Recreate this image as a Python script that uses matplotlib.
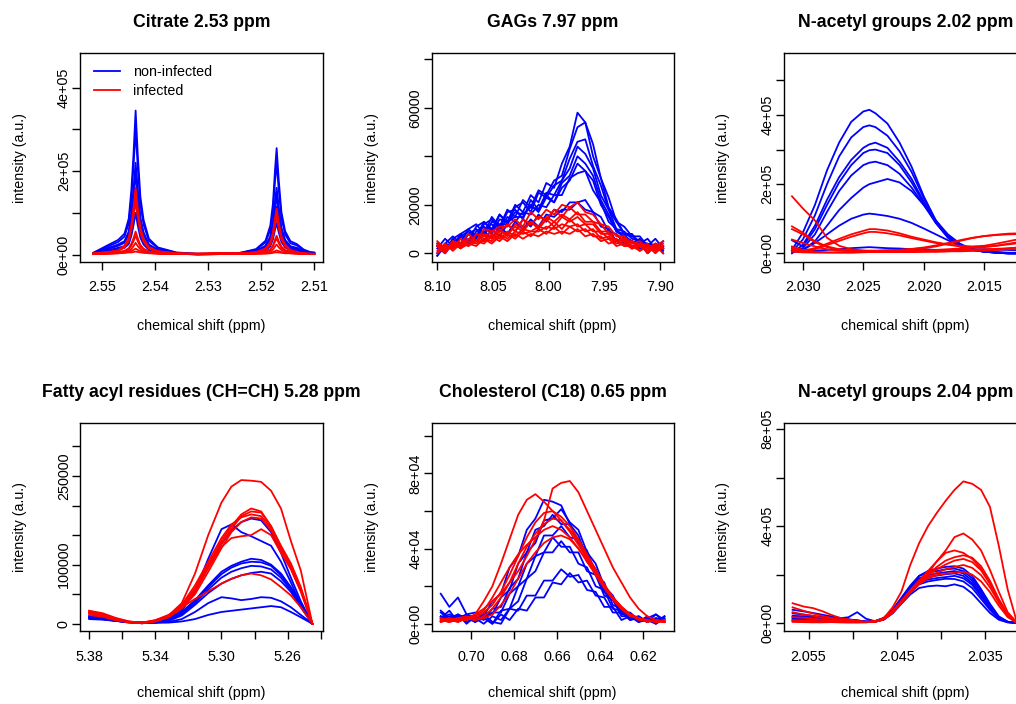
import matplotlib
matplotlib.use("Agg")
import matplotlib.pyplot as plt

BLUE = "#0000ff"
RED = "#ff0000"
LW = 1.3
plt.rcParams["font.family"] = ["Liberation Sans", "DejaVu Sans"]

# ---- Citrate 2.53 ppm (intensity in thousands) ----
citratePpm = [2.5517, 2.5490, 2.5470, 2.5458, 2.5450, 2.5445, 2.5441, 2.5437, 2.5433, 2.5428,
              2.5422, 2.5412, 2.5395, 2.5360, 2.5320, 2.5280, 2.5240, 2.5210, 2.5192, 2.5183,
              2.5178, 2.5174, 2.5171, 2.5167, 2.5162, 2.5155, 2.5145, 2.5133, 2.5120, 2.5108, 2.5100]
citrateBlue = [
    [4, 22, 35, 50, 86, 155, 240, 345, 240, 138, 83, 38, 17, 5, 2, 2, 4, 13, 33, 69, 122, 204, 255, 178, 102, 56, 32, 25, 12, 6, 5],
    [4, 19, 30, 43, 75, 135, 210, 300, 210, 120, 72, 33, 15, 4, 1, 2, 4, 11, 29, 59, 106, 176, 220, 154, 88, 48, 27, 22, 10, 5, 4],
    [3, 15, 24, 32, 55, 99, 154, 220, 154, 88, 53, 24, 11, 3, 1, 2, 3, 8, 21, 43, 77, 128, 160, 112, 64, 35, 20, 16, 8, 4, 3],
    [3, 14, 22, 30, 51, 92, 144, 205, 144, 82, 49, 23, 10, 3, 0, 1, 3, 8, 20, 41, 72, 120, 150, 105, 60, 33, 18, 15, 7, 4, 3],
    [2, 13, 21, 28, 49, 88, 137, 195, 137, 78, 47, 21, 10, 3, 1, 2, 3, 7, 18, 38, 67, 112, 140, 98, 56, 31, 17, 14, 7, 3, 2],
    [2, 10, 16, 20, 33, 59, 91, 130, 91, 52, 31, 14, 7, 2, 0, 1, 2, 6, 15, 31, 55, 92, 115, 81, 46, 25, 14, 11, 6, 3, 2],
    [2, 8, 13, 16, 25, 45, 70, 100, 70, 40, 24, 11, 5, 2, 1, 2, 2, 4, 10, 20, 36, 60, 75, 53, 30, 17, 10, 8, 4, 2, 2],
]
citrateRed = [
    [3, 6, 10, 21, 40, 72, 112, 160, 112, 64, 38, 18, 8, 3, 2, 3, 2, 6, 14, 30, 53, 88, 110, 77, 44, 24, 11, 6, 3, 2, 2],
    [2, 5, 9, 19, 36, 65, 102, 145, 102, 58, 35, 16, 7, 2, 2, 3, 2, 5, 13, 27, 48, 80, 100, 70, 40, 22, 10, 5, 3, 2, 1],
    [2, 5, 8, 17, 33, 59, 91, 130, 91, 52, 31, 14, 7, 3, 1, 2, 3, 5, 12, 24, 43, 72, 90, 63, 36, 20, 9, 5, 2, 1, 1],
    [1, 3, 5, 9, 15, 26, 39, 55, 39, 23, 14, 7, 3, 1, 2, 3, 2, 3, 7, 13, 22, 36, 45, 32, 19, 11, 6, 3, 2, 1, 1],
    [2, 3, 5, 8, 12, 21, 32, 45, 32, 19, 12, 6, 3, 2, 1, 2, 2, 3, 6, 11, 19, 31, 38, 27, 16, 9, 5, 3, 2, 1, 1],
    [1, 2, 4, 6, 8, 13, 20, 28, 20, 13, 8, 5, 3, 1, 1, 2, 2, 2, 4, 7, 12, 19, 24, 17, 11, 7, 4, 3, 2, 1, 1],
    [1, 2, 3, 5, 6, 8, 11, 14, 11, 8, 6, 4, 2, 1, 1, 1, 1, 2, 3, 4, 6, 8, 10, 8, 6, 4, 3, 2, 1, 1, 1],
    [1, 2, 3, 4, 5, 5, 6, 7, 6, 5, 4, 3, 2, 1, 1, 1, 1, 2, 2, 3, 4, 5, 5, 5, 4, 3, 3, 2, 1, 1, 1],
]

# ---- GAGs 7.97 ppm (thousands) ----
gagsPpm = [8.100, 8.093, 8.086, 8.079, 8.072, 8.065, 8.058, 8.051, 8.044, 8.037,
           8.030, 8.023, 8.016, 8.009, 8.002, 7.995, 7.988, 7.981, 7.974, 7.967,
           7.960, 7.953, 7.946, 7.939, 7.932, 7.925, 7.918, 7.911, 7.904, 7.897]
gagsBlue = [
    [2, 6, 3, 8, 10, 7, 13, 10, 16, 13, 20, 17, 24, 21, 29, 27, 37, 44, 58, 54, 45, 31, 23, 13, 11, 7, 7, 3, 6, 2],
    [0, 4, 7, 4, 10, 12, 8, 15, 11, 18, 15, 22, 19, 26, 24, 30, 32, 43, 52, 54, 40, 31, 19, 14, 8, 8, 4, 6, 2, 5],
    [4, 1, 6, 8, 5, 11, 13, 9, 16, 12, 19, 21, 17, 25, 23, 28, 30, 39, 46, 47, 36, 28, 18, 13, 8, 7, 5, 4, 3, 3],
    [-1, 4, 3, 7, 9, 6, 12, 14, 10, 17, 18, 14, 22, 18, 25, 24, 30, 35, 44, 41, 35, 24, 18, 10, 9, 6, 5, 3, 3, 2],
    [3, 0, 6, 3, 8, 10, 7, 13, 12, 12, 17, 16, 19, 18, 24, 21, 29, 32, 40, 37, 32, 22, 16, 9, 8, 4, 6, 2, 4, 0],
    [0, 4, 2, 7, 4, 9, 11, 8, 14, 13, 15, 15, 20, 17, 23, 21, 27, 30, 37, 34, 30, 20, 15, 9, 7, 5, 4, 3, 2, 2],
    [4, 1, 5, 4, 8, 5, 10, 12, 9, 15, 13, 17, 16, 20, 19, 24, 24, 31, 33, 34, 26, 21, 13, 10, 6, 5, 3, 3, 2, 3],
    [-1, 3, 3, 4, 5, 8, 5, 10, 7, 12, 9, 14, 11, 16, 13, 18, 17, 21, 21, 22, 17, 15, 9, 8, 4, 5, 2, 3, 1, 2],
    [3, 0, 4, 4, 5, 5, 9, 6, 11, 8, 13, 10, 14, 11, 16, 15, 18, 18, 21, 18, 17, 11, 10, 5, 6, 2, 4, 0, 3, 1],
]
gagsRed = [
    [4, 1, 5, 4, 8, 5, 10, 9, 11, 11, 14, 11, 17, 14, 18, 16, 20, 19, 21, 17, 16, 12, 11, 7, 7, 4, 5, 2, 4, 3],
    [0, 3, 2, 6, 3, 8, 7, 9, 9, 12, 9, 14, 12, 15, 14, 18, 15, 19, 16, 16, 13, 12, 8, 8, 5, 5, 3, 4, 1, 4],
    [3, 1, 5, 2, 6, 5, 7, 7, 10, 7, 12, 10, 13, 11, 15, 13, 16, 14, 17, 13, 13, 9, 9, 5, 6, 3, 4, 1, 4, 2],
    [5, 2, 4, 4, 6, 5, 8, 6, 9, 8, 11, 9, 13, 10, 14, 11, 15, 13, 15, 12, 12, 8, 8, 5, 6, 2, 4, 2, 3, 5],
    [0, 3, 2, 4, 4, 5, 5, 8, 6, 9, 7, 10, 9, 11, 10, 13, 10, 14, 11, 12, 9, 9, 6, 6, 3, 5, 1, 3, 2, 3],
    [4, 1, 3, 3, 5, 4, 6, 5, 8, 6, 9, 8, 9, 9, 11, 10, 12, 11, 12, 9, 10, 6, 7, 4, 5, 2, 4, 0, 3, 2],
    [1, 4, 1, 4, 3, 5, 4, 7, 5, 8, 6, 9, 7, 10, 8, 11, 8, 11, 9, 10, 7, 7, 4, 5, 3, 3, 1, 3, 0, 3],
    [3, 0, 4, 2, 4, 3, 6, 4, 7, 5, 8, 6, 8, 7, 9, 8, 9, 8, 10, 7, 8, 5, 6, 3, 4, 2, 3, 1, 3, 0],
]

# ---- N-acetyl groups 2.02 ppm (thousands) ----
nac202Ppm = [2.0309, 2.0300, 2.0290, 2.0280, 2.0270, 2.0260, 2.0250, 2.0245, 2.0240, 2.0230, 2.0220,
             2.0210, 2.0200, 2.0190, 2.0180, 2.0170, 2.0160, 2.0150, 2.0140, 2.0130, 2.0120, 2.0110]
nac202Blue = [
    [10, 60, 140, 240, 320, 380, 410, 415, 405, 375, 320, 250, 165, 95, 50, 20, 10, 5, 2, 0, 0, 0],
    [5, 40, 110, 200, 280, 335, 365, 370, 365, 340, 295, 235, 160, 95, 50, 22, 10, 5, 2, 0, 0, 0],
    [0, 25, 80, 155, 220, 270, 305, 315, 320, 305, 265, 215, 150, 90, 48, 22, 12, 6, 3, 1, 0, 0],
    [38, 20, 70, 140, 205, 255, 290, 298, 300, 290, 255, 205, 145, 88, 45, 20, 10, 5, 2, 0, 0, 0],
    [10, 15, 55, 120, 180, 225, 255, 262, 265, 255, 230, 190, 140, 88, 48, 22, 10, 5, 2, 0, 0, 0],
    [5, 10, 35, 80, 125, 160, 190, 200, 205, 215, 205, 180, 140, 95, 55, 28, 12, 6, 3, 1, 0, 0],
    [15, 10, 30, 55, 80, 100, 112, 115, 113, 108, 100, 88, 72, 55, 38, 22, 12, 6, 3, 2, 1, 0],
    [5, 5, 8, 10, 12, 15, 17, 18, 17, 15, 14, 12, 12, 10, 10, 11, 12, 12, 11, 10, 8, 6],
]
nac202Red = [
    [165, 130, 95, 45, 22, 12, 8, 6, 5, 5, 4, 4, 5, 5, 6, 8, 10, 12, 13, 15, 17, 20],
    [78, 60, 35, 20, 12, 9, 8, 8, 8, 9, 10, 12, 15, 20, 28, 36, 44, 50, 54, 57, 58, 60],
    [70, 55, 32, 18, 10, 7, 6, 6, 7, 8, 10, 13, 17, 23, 30, 38, 45, 50, 53, 55, 56, 57],
    [15, 8, 15, 28, 42, 55, 65, 70, 70, 66, 58, 48, 40, 32, 26, 22, 20, 22, 28, 35, 42, 48],
    [10, 5, 12, 24, 36, 48, 58, 62, 62, 58, 52, 44, 37, 30, 25, 20, 18, 19, 22, 28, 33, 38],
    [20, 10, 5, 3, 2, 2, 3, 4, 5, 6, 7, 8, 9, 10, 12, 14, 16, 18, 22, 26, 30, 33],
    [5, 3, 2, 2, 3, 3, 4, 4, 5, 5, 5, 6, 6, 7, 8, 9, 10, 10, 11, 12, 12, 12],
    [40, 30, 20, 12, 8, 6, 5, 5, 4, 4, 4, 4, 5, 5, 6, 6, 7, 8, 10, 14, 18, 22],
]

# ---- Fatty acyl residues (CH=CH) 5.28 ppm (thousands) ----
fattyPpm = [5.380, 5.372, 5.364, 5.356, 5.348, 5.340, 5.332, 5.324, 5.316, 5.308,
            5.300, 5.294, 5.288, 5.282, 5.276, 5.270, 5.264, 5.258, 5.252, 5.245]
fattyBlue = [
    [12, 10, 7, 3, 2, 3, 8, 22, 55, 110, 160, 168, 155, 148, 140, 132, 105, 70, 32, 0],
    [10, 8, 5, 3, 1, 3, 10, 25, 55, 95, 135, 158, 172, 178, 175, 155, 120, 78, 38, 0],
    [12, 10, 6, 3, 2, 3, 8, 20, 40, 65, 88, 98, 105, 110, 108, 100, 85, 62, 34, 0],
    [10, 9, 5, 2, 1, 3, 7, 18, 38, 62, 84, 95, 102, 105, 104, 98, 82, 60, 32, 0],
    [14, 11, 6, 3, 2, 2, 6, 16, 35, 58, 78, 88, 94, 98, 97, 92, 78, 57, 30, 0],
    [11, 9, 5, 3, 1, 2, 5, 14, 32, 52, 68, 76, 82, 86, 88, 85, 72, 54, 28, 0],
    [10, 8, 5, 3, 2, 2, 3, 8, 20, 35, 45, 43, 40, 42, 45, 44, 38, 28, 15, 0],
    [8, 7, 5, 3, 2, 2, 2, 4, 8, 15, 20, 22, 24, 26, 28, 30, 28, 20, 11, 0],
]
fattyRed = [
    [20, 16, 8, 3, 1, 5, 14, 35, 85, 150, 205, 232, 243, 242, 240, 225, 195, 140, 90, 0],
    [22, 15, 8, 3, 2, 6, 15, 30, 60, 100, 140, 165, 185, 195, 190, 165, 130, 100, 60, 0],
    [18, 14, 7, 2, 1, 4, 12, 28, 55, 95, 135, 160, 182, 190, 188, 165, 132, 102, 62, 0],
    [15, 12, 6, 3, 2, 5, 13, 32, 65, 105, 145, 168, 180, 185, 182, 162, 128, 98, 58, 0],
    [20, 16, 9, 4, 1, 4, 11, 26, 50, 88, 128, 155, 172, 180, 178, 158, 125, 95, 56, 0],
    [18, 14, 8, 3, 1, 5, 14, 30, 58, 95, 130, 145, 148, 150, 160, 150, 120, 92, 54, 0],
    [22, 18, 10, 4, 2, 6, 14, 28, 42, 55, 68, 76, 82, 85, 82, 75, 62, 48, 28, 0],
]

# ---- Cholesterol (C18) 0.65 ppm (thousands) ----
cholPpm = [0.714, 0.710, 0.706, 0.702, 0.698, 0.694, 0.690, 0.686, 0.682, 0.678, 0.674, 0.670, 0.666, 0.662,
           0.658, 0.654, 0.650, 0.646, 0.642, 0.638, 0.634, 0.630, 0.626, 0.622, 0.618, 0.614, 0.610]
cholBlue = [
    [16, 9, 14, 5, 6, 4, 12, 16, 30, 36, 50, 56, 66, 65, 63, 53, 47, 35, 29, 17, 13, 5, 5, 2, 3, 5, 1],
    [7, 3, 5, 3, 4, 2, 8, 9, 19, 24, 38, 43, 55, 56, 61, 54, 50, 38, 32, 20, 15, 6, 6, 2, 3, 1, 4],
    [3, 7, 1, 5, 3, 5, 5, 14, 18, 32, 38, 50, 52, 58, 53, 53, 43, 39, 26, 22, 10, 8, 3, 4, 1, 5, 2],
    [4, 1, 5, 0, 4, 3, 6, 6, 16, 20, 32, 36, 47, 47, 52, 46, 45, 33, 29, 17, 13, 6, 5, 1, 3, 1, 3],
    [6, 2, 4, 3, 1, 5, 0, 7, 8, 20, 24, 36, 38, 46, 41, 41, 32, 30, 20, 18, 8, 7, 2, 4, 1, 3, 2],
    [3, 5, 3, 5, 1, 5, 1, 0, 8, 12, 24, 28, 38, 38, 44, 38, 38, 28, 26, 15, 13, 4, 4, 1, 4, 0, 3],
    [4, 2, 4, 1, 3, 0, 4, 2, 8, 7, 15, 15, 23, 23, 29, 25, 26, 18, 17, 9, 9, 2, 4, 1, 2, 0, 4],
    [1, 4, 2, 4, 1, 3, 0, 5, 2, 8, 7, 14, 14, 22, 21, 27, 22, 23, 15, 14, 6, 6, 2, 3, 1, 3, 1],
]
cholRed = [
    [2, 3, 1, 3, 5, 8, 12, 16, 22, 28, 36, 45, 55, 72, 75, 76, 70, 60, 50, 40, 30, 22, 14, 8, 4, 2, 1],
    [1, 2, 3, 2, 5, 12, 20, 32, 45, 58, 66, 69, 65, 60, 55, 49, 42, 35, 27, 20, 14, 9, 5, 3, 2, 1, 2],
    [2, 1, 3, 4, 3, 6, 10, 17, 26, 36, 46, 54, 59, 60, 57, 52, 45, 37, 29, 21, 14, 9, 5, 3, 1, 2, 1],
    [3, 2, 1, 3, 2, 4, 8, 14, 22, 32, 41, 48, 53, 56, 55, 50, 44, 36, 28, 20, 13, 8, 5, 2, 2, 1, 2],
    [1, 3, 2, 2, 4, 7, 14, 22, 30, 37, 42, 46, 50, 52, 50, 46, 40, 33, 26, 19, 13, 8, 4, 3, 1, 2, 1],
    [2, 1, 2, 3, 2, 3, 5, 10, 16, 24, 32, 38, 43, 46, 47, 45, 40, 34, 27, 20, 14, 9, 5, 3, 2, 1, 1],
]

# ---- N-acetyl groups 2.04 ppm (thousands) ----
nac204Ppm = [2.0568, 2.0555, 2.0545, 2.0535, 2.0525, 2.0515, 2.0505, 2.0495, 2.0485, 2.0475, 2.0465, 2.0455, 2.0445,
             2.0435, 2.0425, 2.0415, 2.0405, 2.0395, 2.0385, 2.0375, 2.0365, 2.0355, 2.0345, 2.0335, 2.0325, 2.0315]
nac204Blue = [
    [40, 35, 30, 25, 22, 20, 24, 45, 18, 8, 20, 50, 95, 150, 195, 215, 225, 232, 235, 225, 195, 140, 80, 28, 6, 1],
    [55, 48, 42, 35, 28, 22, 15, 10, 7, 8, 22, 55, 105, 155, 195, 208, 215, 222, 225, 215, 185, 135, 75, 25, 5, 1],
    [30, 28, 25, 22, 20, 18, 14, 10, 6, 7, 20, 52, 100, 148, 185, 198, 205, 210, 215, 205, 175, 125, 70, 24, 5, 1],
    [20, 18, 16, 15, 14, 14, 15, 12, 6, 6, 18, 48, 92, 138, 175, 190, 196, 202, 205, 195, 165, 118, 65, 22, 5, 1],
    [15, 14, 12, 12, 11, 10, 10, 8, 5, 6, 16, 45, 88, 130, 168, 180, 186, 190, 195, 185, 158, 110, 60, 20, 4, 1],
    [10, 10, 9, 9, 9, 10, 12, 9, 5, 5, 14, 42, 85, 126, 160, 172, 178, 183, 182, 172, 145, 100, 55, 18, 4, 1],
    [25, 22, 19, 16, 14, 12, 10, 8, 5, 6, 15, 40, 80, 118, 145, 152, 155, 152, 160, 150, 122, 82, 42, 14, 3, 1],
]
nac204Red = [
    [82, 68, 62, 50, 35, 22, 15, 10, 5, 5, 20, 65, 130, 240, 330, 400, 455, 505, 550, 585, 575, 550, 480, 320, 140, 10],
    [65, 50, 40, 30, 22, 15, 10, 6, 4, 5, 15, 45, 90, 135, 170, 205, 255, 300, 355, 370, 345, 300, 220, 130, 45, 5],
    [45, 35, 30, 22, 16, 10, 7, 4, 3, 6, 18, 50, 92, 135, 175, 215, 255, 290, 300, 290, 265, 225, 165, 95, 35, 3],
    [25, 22, 18, 14, 10, 8, 6, 5, 4, 6, 15, 42, 85, 128, 165, 200, 232, 258, 272, 280, 270, 235, 175, 100, 38, 2],
    [12, 10, 9, 8, 7, 5, 4, 3, 4, 7, 18, 45, 88, 130, 168, 198, 222, 242, 258, 265, 252, 218, 162, 92, 34, 2],
    [8, 6, 6, 5, 5, 4, 3, 4, 5, 8, 17, 42, 82, 125, 160, 188, 208, 222, 232, 240, 228, 198, 148, 85, 30, 3],
    [5, 4, 3, 3, 4, 3, 3, 3, 4, 8, 20, 48, 90, 130, 162, 185, 198, 204, 208, 212, 200, 172, 128, 72, 25, 2],
]

titles = ["Citrate 2.53 ppm", "GAGs 7.97 ppm", "N-acetyl groups 2.02 ppm",
          "Fatty acyl residues (CH=CH) 5.28 ppm", "Cholesterol (C18) 0.65 ppm", "N-acetyl groups 2.04 ppm"]

xTicks = [
    [2.55, 2.54, 2.53, 2.52, 2.51],
    [8.10, 8.05, 8.00, 7.95, 7.90],
    [2.030, 2.025, 2.020, 2.015],
    [5.38, 5.36, 5.34, 5.32, 5.30, 5.28, 5.26, 5.24],
    [0.70, 0.68, 0.66, 0.64, 0.62],
    [2.055, 2.050, 2.045, 2.040, 2.035],
]
xTickLabels = [
    ["2.55", "2.54", "2.53", "2.52", "2.51"],
    ["8.10", "8.05", "8.00", "7.95", "7.90"],
    ["2.030", "2.025", "2.020", "2.015"],
    ["5.38", "", "5.34", "", "5.30", "", "5.26", ""],
    ["0.70", "0.68", "0.66", "0.64", "0.62"],
    ["2.055", "", "2.045", "", "2.035"],
]
yTicks = [
    [0, 1e5, 2e5, 3e5, 4e5],
    [0, 20000, 40000, 60000, 80000],
    [0, 1e5, 2e5, 3e5, 4e5, 5e5],
    [0, 50000, 100000, 150000, 200000, 250000, 300000],
    [0, 2e4, 4e4, 6e4, 8e4, 1e5],
    [0, 2e5, 4e5, 6e5, 8e5],
]
yTickLabels = [
    ["0e+00", "", "2e+05", "", "4e+05"],
    ["0", "20000", "", "60000", ""],
    ["0e+00", "", "2e+05", "", "4e+05", ""],
    ["0", "", "100000", "", "", "250000", ""],
    ["0e+00", "", "4e+04", "", "8e+04", ""],
    ["0e+00", "", "4e+05", "", "8e+05"],
]

xLims = [(2.5542, 2.5083), (8.105, 7.8877), (2.03158, 2.01145),
         (5.3856, 5.2384), (0.7182, 0.6058), (2.0578, 2.0303)]
yLims = [(-18000, 483000), (-3600, 82600), (-25000, 579000),
         (-13000, 339000), (-4100, 106700), (-34600, 824700)]

# axes boxes in figure fraction (left, bottom, width, height)
boxes = [
    [0.0787, 0.6278, 0.2395, 0.2969],
    [0.4249, 0.6278, 0.2380, 0.2969],
    [0.7714, 0.6278, 0.2395, 0.2969],
    [0.0787, 0.1030, 0.2395, 0.2957],
    [0.4249, 0.1030, 0.2380, 0.2957],
    [0.7714, 0.1030, 0.2395, 0.2957],
]

series = [
    (citratePpm, citrateBlue, citrateRed),
    (gagsPpm, gagsBlue, gagsRed),
    (nac202Ppm, nac202Blue, nac202Red),
    (fattyPpm, fattyBlue, fattyRed),
    (cholPpm, cholBlue, cholRed),
    (nac204Ppm, nac204Blue, nac204Red),
]


def drawPanel(ax, ppm, blueRows, redRows):
    for row in blueRows:
        ax.plot(ppm, [v * 1000 for v in row], color=BLUE, lw=LW, solid_joinstyle="round")
    for row in redRows:
        ax.plot(ppm, [v * 1000 for v in row], color=RED, lw=LW, solid_joinstyle="round")


def styleAxes(ax, i):
    ax.set_xlim(*xLims[i])
    ax.set_ylim(*yLims[i])
    ax.set_xticks(xTicks[i])
    ax.set_xticklabels(xTickLabels[i])
    ax.set_yticks(yTicks[i])
    ax.set_yticklabels(yTickLabels[i])
    ax.tick_params(direction="out", length=6, width=1.0, labelsize=10.4, colors="black")
    ax.tick_params(axis="x", pad=7)
    ax.tick_params(axis="y", pad=0.5)
    for lab in ax.get_yticklabels():
        lab.set_rotation(90)
        lab.set_va("center")
    for spine in ax.spines.values():
        spine.set_linewidth(1.0)
    ax.set_title(titles[i], fontsize=12.7, fontweight="bold", pad=19)
    ax.set_xlabel("chemical shift (ppm)", fontsize=10.3)
    ax.set_ylabel("intensity (a.u.)", fontsize=10.3)
    ax.xaxis.set_label_coords(0.5, -0.272 if i < 3 else -0.263)
    ax.yaxis.set_label_coords(-0.219, 0.5)


fig = plt.figure(figsize=(10.16, 7.04), dpi=100)
for i, (ppm, blueRows, redRows) in enumerate(series):
    ax = fig.add_axes(boxes[i])
    drawPanel(ax, ppm, blueRows, redRows)
    styleAxes(ax, i)
    if i == 0:
        ax.plot([], [], color=BLUE, lw=LW, label="non-infected")
        ax.plot([], [], color=RED, lw=LW, label="infected")
        handles, labels = ax.get_legend_handles_labels()
        ax.legend(handles[-2:], labels[-2:], loc="upper left", bbox_to_anchor=(0.058, 0.941),
                  frameon=False, fontsize=10.3, handlelength=1.8, handletextpad=0.9,
                  labelspacing=0.3, borderpad=0, borderaxespad=0)

fig.savefig("out.png", dpi=100, facecolor="white")
